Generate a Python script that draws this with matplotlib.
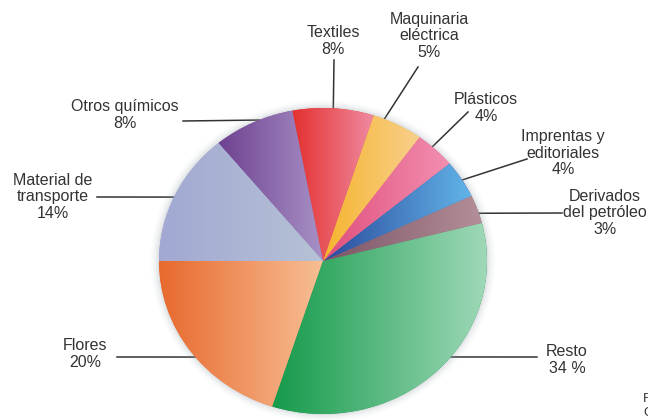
import numpy as np
import matplotlib.pyplot as plt
from matplotlib.colors import LinearSegmentedColormap
from matplotlib.patches import Ellipse

plt.rcParams["font.family"] = ["Liberation Sans", "DejaVu Sans"]

# ---------------- datos ----------------
sectores = ["Flores", "Resto", "Derivados\ndel petróleo", "Imprentas y\neditoriales",
            "Plásticos", "Maquinaria\neléctrica", "Textiles", "Otros químicos",
            "Material de\ntransporte"]
porcentajes = [20, 34, 3, 4, 4, 5, 8, 8, 14]
sep_pct = ["", " ", "", "", "", "", "", "", ""]

# degradado horizontal de cada porcion (izquierda -> derecha)
color_izq = ["#e8692e", "#159a4a", "#7a5566", "#2b4a9c", "#e04f7c",
             "#f6b42e", "#e4302e", "#6e4190", "#a2a8d2"]
color_der = ["#f7bf95", "#9fd8b8", "#b48e98", "#62b4e8", "#f28fb0",
             "#f8d08c", "#ef8aa0", "#a891c6", "#b6c2d6"]

# posicion de etiquetas (px) y de las lineas guia
pos_texto = [(85, 354), (567, 360), (605, 213), (563, 153), (486, 108),
             (429, 36), (333, 41), (125, 115), (53, 197)]
inicio_linea = [(117, 357), (537, 357), (562, 213), (527, 159), (468, 112),
                (418, 67), (334, 60), (183, 121), (97, 197)]
frac_ancla = [0.54, 0.565, 0.35, 0.47, 0.6, 0.78, 0.5, 0.42, 0.51]

W, H = 648, 420
fig = plt.figure(figsize=(W / 100, H / 100), dpi=100)
fig.patch.set_facecolor("white")

# capa de texto en coordenadas de pixel
ax_txt = fig.add_axes([0, 0, 1, 1])
ax_txt.set_xlim(0, W)
ax_txt.set_ylim(H, 0)
ax_txt.axis("off")

# torta ligeramente eliptica
cx, cy, rx, ry = 323, 261, 164, 153
lim = 1.1
ax_pie = fig.add_axes([(cx - rx * lim) / W, (H - cy - ry * lim) / H,
                       2 * rx * lim / W, 2 * ry * lim / H])

wedges, _ = ax_pie.pie(porcentajes, startangle=180, counterclock=True, radius=1,
                       colors=color_izq, wedgeprops=dict(linewidth=0))
ax_pie.set_aspect("auto")

# sombra difusa alrededor del borde
for r, a in [(1.05, 0.04), (1.035, 0.07), (1.02, 0.10), (1.008, 0.14)]:
    ax_pie.add_patch(Ellipse((0, 0), 2 * r, 2 * r, color="#98a2ac", alpha=a,
                             lw=0, zorder=0))

grad = np.linspace(0, 1, 256).reshape(1, -1)
for w, c0, c1 in zip(wedges, color_izq, color_der):
    th = np.radians(np.linspace(w.theta1, w.theta2, 100))
    xs = np.concatenate([[0], np.cos(th)])
    ys = np.concatenate([[0], np.sin(th)])
    cmap = LinearSegmentedColormap.from_list("g", [c0, c1])
    im = ax_pie.imshow(grad, cmap=cmap, aspect="auto", origin="lower", zorder=2,
                       extent=[xs.min(), xs.max(), ys.min(), ys.max()],
                       interpolation="bilinear")
    im.set_clip_path(w)

ax_pie.set_xlim(-lim, lim)
ax_pie.set_ylim(-lim, lim)
ax_pie.axis("off")

# lineas guia y etiquetas
a_px = ax_txt.transData.inverted()
for i, w in enumerate(wedges):
    ang = np.radians(w.theta1 + frac_ancla[i] * (w.theta2 - w.theta1))
    disp = ax_pie.transData.transform((np.cos(ang), np.sin(ang)))
    px, py = a_px.transform(disp)
    lx, ly = inicio_linea[i]
    ax_txt.plot([lx, px], [ly, py], color="#333333", lw=1.1, zorder=1)

    texto = f"{sectores[i]}\n{porcentajes[i]}{sep_pct[i]}%"
    tx, ty = pos_texto[i]
    ax_txt.text(tx, ty, texto, ha="center", va="center", fontsize=11.5,
                linespacing=1.15, color="#333333")

# nota de fuente (cortada en el borde)
ax_txt.text(643, 406, "Fuente:\nC", ha="left", va="center", fontsize=9.5,
            linespacing=1.15, color="#333333")

fig.savefig("out.png", dpi=100, facecolor="white")
